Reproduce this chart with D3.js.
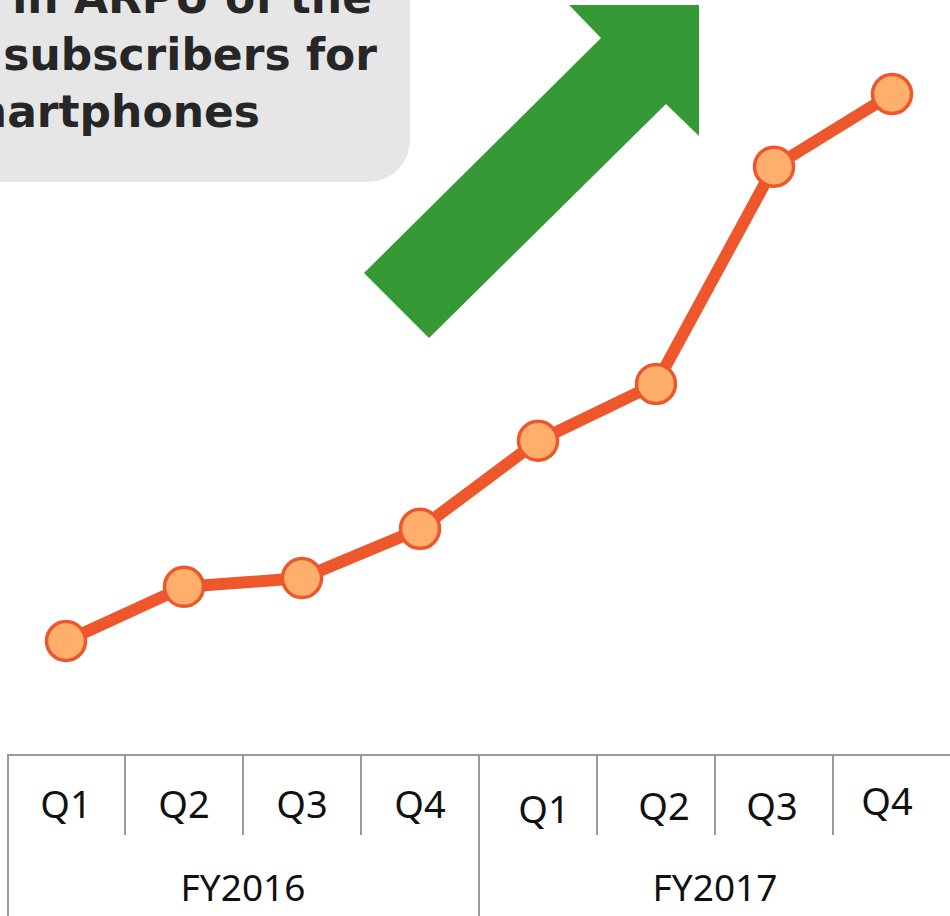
<!DOCTYPE html>
<html>
<head>
<meta charset="utf-8">
<script src="https://cdn.jsdelivr.net/npm/d3@7"></script>
<style>
  html, body { margin: 0; padding: 0; background: #ffffff; }
  svg { display: block; }
</style>
</head>
<body>
<svg id="chart" width="950" height="916"></svg>
<script>
// Quarterly ARPU index of smartphone subscribers (FY2016 Q1 = 100)
const fiscalYears = ["FY2016", "FY2017"];
const quarters = ["Q1", "Q2", "Q3", "Q4"];
const periods = ["FY2016 Q1", "FY2016 Q2", "FY2016 Q3", "FY2016 Q4",
                 "FY2017 Q1", "FY2017 Q2", "FY2017 Q3", "FY2017 Q4"];
const arpuIndex = [100, 109.9, 111.5, 120.5, 136.6, 147.0, 186.7, 200];
const calloutLines = ["Increase in ARPU of the", "subscribers for", "smartphones"];

const svg = d3.select("#chart");

// Scales: one band per quarter, spanning the table below the line
const x = d3.scaleBand().domain(periods).range([7, 951]).padding(0);
const y = d3.scaleLinear().domain([100, 200]).range([641, 94]);
const yearScale = d3.scaleBand().domain(fiscalYears).range([7, 951]);

// Callout box (rounded, running off the top-left corner)
svg.append("rect")
  .attr("x", -60).attr("y", -60)
  .attr("width", 470).attr("height", 242)
  .attr("rx", 42).attr("ry", 42)
  .attr("fill", "#e6e6e6");

const calloutRight = [372, 377, 260];
svg.append("g")
  .selectAll("text")
  .data(calloutLines)
  .join("text")
  .attr("x", (d, i) => calloutRight[i])
  .attr("y", (d, i) => 13 + i * 57)
  .attr("text-anchor", "end")
  .attr("font-family", "DejaVu Sans")
  .attr("font-weight", "bold")
  .attr("font-size", 44)
  .attr("fill", "#262626")
  .text(d => d);

// Upward trend arrow
const arrowPts = [[364, 273], [429, 338], [666, 104], [699, 136], [699, 5], [569, 5], [601, 38]];
svg.append("path")
  .attr("d", d3.line()(arrowPts) + "Z")
  .attr("fill", "#359a35");

// ARPU line with markers
const cx = d => x(d) + x.bandwidth() / 2;
const series = periods.map((p, i) => ({ p, v: arpuIndex[i] }));

svg.append("path")
  .datum(series)
  .attr("fill", "none")
  .attr("stroke", "#ee562b")
  .attr("stroke-width", 12)
  .attr("stroke-linejoin", "round")
  .attr("d", d3.line().x(d => cx(d.p)).y(d => y(d.v)));

svg.append("g")
  .selectAll("circle")
  .data(series)
  .join("circle")
  .attr("cx", d => cx(d.p))
  .attr("cy", d => y(d.v))
  .attr("r", 19.5)
  .attr("fill", "#ffae6c")
  .attr("stroke", "#ee562b")
  .attr("stroke-width", 3.5);

// Category table: quarters over fiscal years
const tableTop = 755, qBottom = 835, tableBottom = 930;
const grid = svg.append("g").attr("stroke", "#9a9a9a").attr("stroke-width", 2).attr("fill", "none");
grid.append("line").attr("x1", 7).attr("x2", 960).attr("y1", tableTop).attr("y2", tableTop);
grid.append("line").attr("x1", 8).attr("x2", 8).attr("y1", tableTop).attr("y2", tableBottom);
periods.forEach((p, i) => {
  if (i === 0) return;
  const xx = x(p);
  const yearStart = i % quarters.length === 0;
  grid.append("line")
    .attr("x1", xx).attr("x2", xx)
    .attr("y1", tableTop).attr("y2", yearStart ? tableBottom : qBottom);
});

// Quarter labels; the FY2017 cells sit slightly off-centre in the table
const labelNudge = [[0, 0], [0, 0], [0, 0], [0, 0], [6, 5], [8, 2], [-2, 2], [-5, -3]];
svg.append("g")
  .selectAll("text")
  .data(periods)
  .join("text")
  .attr("x", (d, i) => cx(d) + labelNudge[i][0])
  .attr("y", (d, i) => 818 + labelNudge[i][1])
  .attr("text-anchor", "middle")
  .attr("font-family", "Noto Sans")
  .attr("font-size", 38)
  .attr("fill", "#111")
  .text(d => d.split(" ")[1]);

svg.append("g")
  .selectAll("text")
  .data(fiscalYears)
  .join("text")
  .attr("x", d => yearScale(d) + yearScale.bandwidth() / 2)
  .attr("y", 901)
  .attr("text-anchor", "middle")
  .attr("font-family", "Noto Sans")
  .attr("font-size", 37)
  .attr("fill", "#111")
  .text(d => d);
</script>
</body>
</html>
